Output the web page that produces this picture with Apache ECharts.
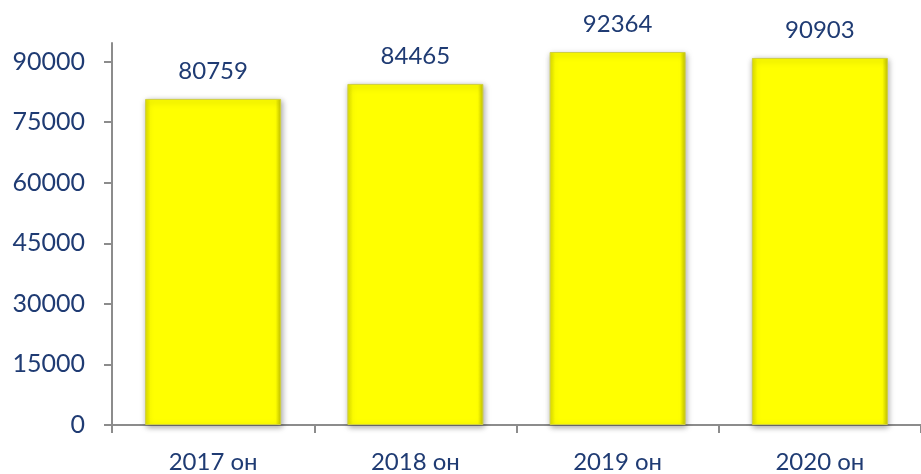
<!DOCTYPE html>
<html>
<head>
<meta charset="utf-8">
<script src="https://cdn.jsdelivr.net/npm/echarts@6/dist/echarts.min.js"></script>
<style>
  html, body { margin: 0; padding: 0; background: #fff; }
  #chart { width: 921px; height: 474px; }
</style>
</head>
<body>
<div id="chart"></div>
<script>
var categories = ['2017 он', '2018 он', '2019 он', '2020 он'];
var values = [80759, 84465, 92364, 90903];

var textColor = '#1F3B73';
var fontName = 'Lato';
var chart = echarts.init(document.getElementById('chart'));
chart.setOption({
    animation: false,
    grid: {
        left: 112,
        right: -11,
        top: 43,
        bottom: 47
    },
    xAxis: {
        type: 'category',
        data: categories,
        axisLine: { lineStyle: { color: '#8c8c8c', width: 2 } },
        axisTick: { show: true, length: 8, lineStyle: { color: '#8c8c8c', width: 2 } },
        axisLabel: {
            color: textColor,
            fontSize: 24,
            fontFamily: fontName,
            margin: 25
        }
    },
    yAxis: {
        type: 'value',
        min: 0,
        max: 94600,
        interval: 15000,
        axisLine: { show: true, lineStyle: { color: '#8c8c8c', width: 2 } },
        axisTick: { show: true, length: 8, lineStyle: { color: '#8c8c8c', width: 2 } },
        splitLine: { show: false },
        axisLabel: {
            color: textColor,
            fontSize: 25,
            fontFamily: fontName,
            margin: 27,
            showMaxLabel: false,
            formatter: function (v) { return String(v); }
        }
    },
    series: [{
        type: 'bar',
        data: values,
        barWidth: 136,
        itemStyle: {
            color: new echarts.graphic.LinearGradient(0, 0, 1, 0, [
                { offset: 0, color: '#e0e000' },
                { offset: 0.04, color: '#ffff00' },
                { offset: 0.96, color: '#ffff00' },
                { offset: 1, color: '#c4c400' }
            ]),
            borderColor: '#cfcf40',
            borderWidth: 1,
            shadowBlur: 6,
            shadowColor: 'rgba(0,0,0,0.35)',
            shadowOffsetX: 1,
            shadowOffsetY: 2
        },
        label: {
            show: true,
            position: 'top',
            distance: 16,
            color: textColor,
            fontSize: 24,
            fontFamily: fontName
        }
    }]
});
</script>
</body>
</html>
